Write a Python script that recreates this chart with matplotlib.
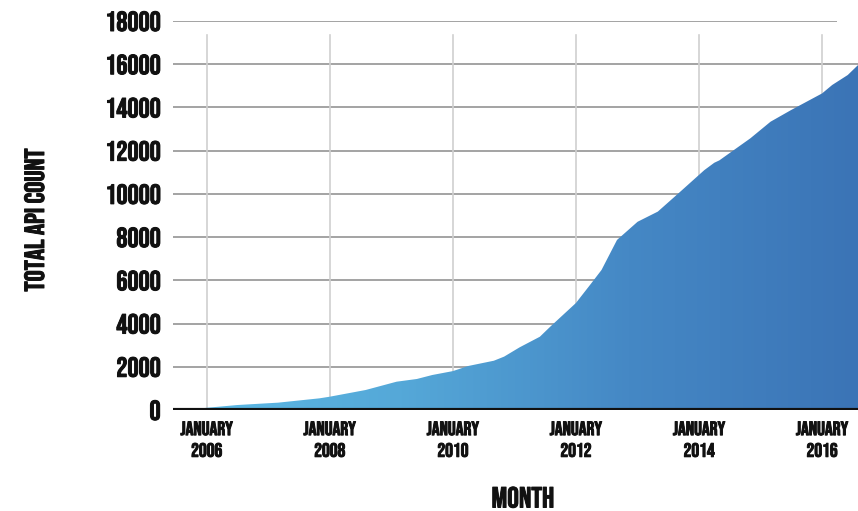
import matplotlib
matplotlib.use("Agg")
import matplotlib.pyplot as plt
import matplotlib.dates as mdates
import matplotlib.patheffects as pe
import numpy as np
from datetime import datetime
from matplotlib.colors import LinearSegmentedColormap

months = ["2005-06", "2005-12", "2006-07", "2007-03", "2007-06", "2007-11",
          "2008-01", "2008-08", "2009-02", "2009-06", "2009-09", "2010-01",
          "2010-04", "2010-09", "2010-11", "2011-02", "2011-06", "2011-08",
          "2012-01", "2012-04", "2012-06", "2012-09", "2013-01", "2013-05",
          "2013-09", "2014-02", "2014-04", "2014-05", "2014-11", "2015-03",
          "2015-07", "2016-01", "2016-03", "2016-06", "2016-08"]
api_count = [0, 80, 230, 340, 415, 540,
             615, 925, 1310, 1435, 1620, 1800,
             2035, 2280, 2470, 2900, 3390, 3850,
             4950, 5860, 6480, 7870, 8710, 9180,
             10030, 11100, 11440, 11550, 12570, 13340,
             13880, 14650, 15040, 15500, 15960]
tick_years = [2006, 2008, 2010, 2012, 2014, 2016]
y_ticks = [0, 2000, 4000, 6000, 8000, 10000, 12000, 14000, 16000, 18000]

FONT = ["Bebas Neue", "Oswald", "DejaVu Sans"]
BOLD = [pe.withStroke(linewidth=0.7, foreground="#111111")]

dates = [datetime.strptime(m, "%Y-%m") for m in months]
xd = mdates.date2num(dates)
y = np.array(api_count, dtype=float)

fig = plt.figure(figsize=(8.58, 5.11), dpi=100)
ax = fig.add_axes([173/858, 1 - 410/511, 1 - 173/858, (410 - 21)/511])

x0 = mdates.date2num(datetime(2005, 6, 15))
x1 = xd[-1]
ax.set_xlim(x0, x1)
ax.set_ylim(0, 18000)

# horizontal gridlines
for v in y_ticks[1:]:
    xe = x1 if v < 18000 else x0 + (x1 - x0) * 0.97
    ax.plot([x0, xe], [v, v], color="#9c9c9c", lw=1.3, zorder=1, solid_capstyle="butt")
# vertical gridlines
for yr in tick_years:
    xt = mdates.date2num(datetime(yr, 1, 1))
    ax.plot([xt, xt], [0, 17350], color="#d0d0d0", lw=1.2, zorder=1)

# gradient fill
poly = ax.fill_between(xd, 0, y, color="none", lw=0, zorder=2)
cmap = LinearSegmentedColormap.from_list("g", ["#5cbbe6", "#55a8d8", "#4588c5", "#3b74b6"])
grad = np.linspace(0, 1, 256).reshape(1, -1)
im = ax.imshow(grad, cmap=cmap, aspect="auto", extent=[x0, x1, 0, 18000],
               origin="lower", zorder=2, interpolation="bicubic")
path = poly.get_paths()[0]
im.set_clip_path(path, transform=ax.transData)

# baseline
ax.plot([x0, x1], [0, 0], color="#111111", lw=3, zorder=4, solid_capstyle="butt")

for s in ax.spines.values():
    s.set_visible(False)

ax.set_yticks(y_ticks)
ax.set_yticklabels([str(v) for v in y_ticks], fontfamily=FONT,
                   fontsize=20, color="#111111")
ax.set_xticks([mdates.date2num(datetime(yr, 1, 1)) for yr in tick_years])
ax.set_xticklabels(["JANUARY\n%d" % yr for yr in tick_years], fontfamily=FONT,
                   fontsize=14, color="#111111", linespacing=1.55)
for t in ax.get_yticklabels() + ax.get_xticklabels():
    t.set_path_effects(BOLD)
ax.tick_params(axis="both", length=0)
ax.tick_params(axis="y", pad=9)
ax.tick_params(axis="x", pad=8)

fig.text(523/858, 1 - 497/511, "MONTH", ha="center", va="center",
         fontfamily=FONT, fontsize=21, color="#111111", path_effects=BOLD)
fig.text(34/858, 1 - 220/511, "TOTAL API COUNT", ha="center", va="center",
         rotation=90, fontfamily=FONT, fontsize=20, color="#111111", path_effects=BOLD)

fig.savefig("out.png", dpi=100)
